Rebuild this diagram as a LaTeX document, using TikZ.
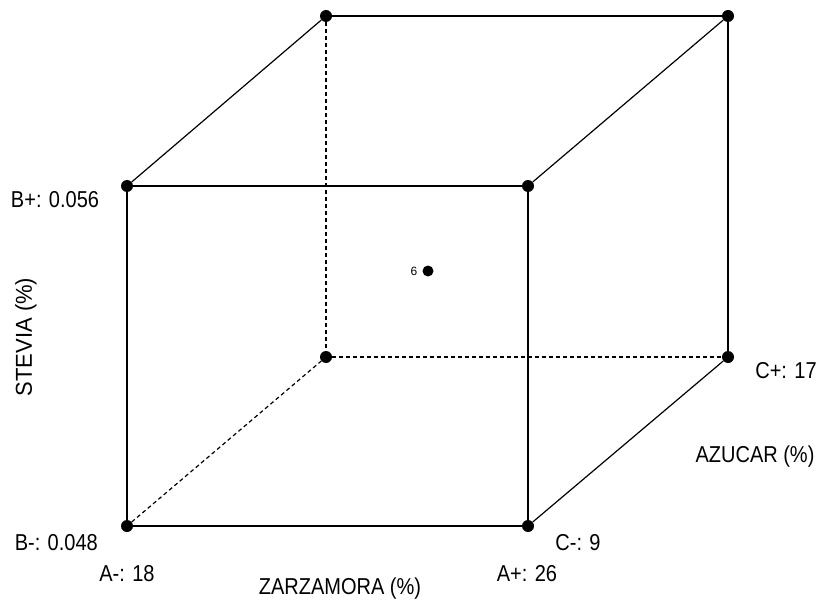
\documentclass[tikz,border=0pt]{standalone}
\usepackage{fontspec}
\setmainfont{Liberation Sans}
\newcommand{\tallt}[1]{\scalebox{1}[1.15]{#1}}
\begin{document}
\begin{tikzpicture}[x=1pt,y=-1pt,
  dot/.style={circle,fill=black,inner sep=0pt,minimum size=12pt},
  edge/.style={line width=1.2pt,black},
  hidden/.style={line width=1.2pt,black,dash pattern=on 4pt off 3pt},
  lbl/.style={font=\fontsize{20}{22}\selectfont,inner sep=0pt}]
\useasboundingbox[fill=white] (0,0) rectangle (825,607);
% vertices
\node[dot] (ftl) at (127,186) {};
\node[dot] (ftr) at (528,186) {};
\node[dot] (fbl) at (127,526) {};
\node[dot] (fbr) at (528,526) {};
\node[dot] (btl) at (326,16) {};
\node[dot] (btr) at (728,16) {};
\node[dot] (bbl) at (326,357) {};
\node[dot] (bbr) at (728,357) {};
\node[dot,minimum size=11pt] (ctr) at (428,271) {};
% hidden edges
\draw[hidden] (btl) -- (bbl);
\draw[hidden] (bbl) -- (bbr);
\draw[hidden] (fbl) -- (bbl);
% visible edges
\draw[edge] (ftl) -- (ftr) -- (fbr) -- (fbl) -- (ftl);
\draw[edge] (btl) -- (btr) -- (bbr);
\draw[edge] (ftl) -- (btl);
\draw[edge] (ftr) -- (btr);
\draw[edge] (fbr) -- (bbr);
% labels
\node[font=\fontsize{12}{13}\selectfont,inner sep=0pt] (six) at (414,271) {6};
\node[lbl] (bp) at (55,200) {\tallt{B+: 0.056}};
\node[lbl,anchor=east] (bm) at (98,543) {\tallt{B-: 0.048}};
\node[lbl] (am) at (127,574) {\tallt{A-: 18}};
\node[lbl] (ap) at (527,574) {\tallt{A+: 26}};
\node[lbl] (cm) at (578,543) {\tallt{C-: 9}};
\node[lbl] (cp) at (786,371) {\tallt{C+: 17}};
\node[lbl] (az) at (755,457) {\tallt{AZUCAR (\%)}};
\node[lbl] (zz) at (340,589) {\tallt{ZARZAMORA (\%)}};
\node[lbl,rotate=90] (st) at (26,337) {\scalebox{1.1}[1.15]{STEVIA (\%)}};
\end{tikzpicture}
\end{document}
